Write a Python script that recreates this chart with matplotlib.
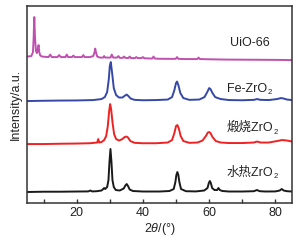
import matplotlib
matplotlib.use("Agg")
import matplotlib.pyplot as plt
from matplotlib.ticker import MultipleLocator

plt.rcParams['font.family'] = ['Liberation Sans', 'Noto Sans CJK SC', 'DejaVu Sans']
plt.rcParams['mathtext.fontset'] = 'custom'
plt.rcParams['mathtext.rm'] = 'Liberation Sans'
plt.rcParams['mathtext.it'] = 'Liberation Sans:italic'

# hydrothermal ZrO2 (black)
x_hydro = [5, 10, 15, 20, 23.5, 24.1, 24.7, 26, 27.5, 28.0,
           28.3, 28.6, 29.2, 29.6, 29.9, 30.2, 30.5, 30.8, 31.2, 31.8,
           33, 34.2, 34.7, 35.1, 35.5, 36.0, 37, 40, 45, 48,
           49.3, 49.8, 50.1, 50.4, 50.7, 51.0, 51.5, 53, 56, 58.5,
           59.5, 59.9, 60.2, 60.5, 60.9, 61.6, 62.4, 62.8, 63.2, 64,
           66, 70, 73.5, 74.4, 75.3, 77, 80, 81.3, 81.9, 82.5,
           83.5, 85]
y_hydro = [0, 0.3, 0.3, 0.5, 0.6, 1.5, 0.6, 0.8, 1.5, 3,
           4, 3, 5, 12, 30, 43, 30, 12, 5, 2,
           1.5, 3.5, 6.5, 8, 6, 2.5, 1, 0.5, 0.5, 1,
           3, 10, 17, 20, 17, 10, 3, 0.8, 0.6, 1.5,
           4, 9, 11, 9, 4, 2, 2, 4, 2, 1,
           0.5, 0.5, 0.8, 2, 0.8, 0.5, 0.6, 1.5, 3, 1.5,
           0.8, 0.5]

# calcined ZrO2 (red)
x_calc = [5, 10, 15, 20, 24, 26.2, 26.5, 26.8, 27.5, 28.3,
          28.9, 29.4, 29.8, 30.1, 30.4, 30.8, 31.3, 31.9, 32.8, 33.8,
          34.5, 35.0, 35.5, 36.2, 37.5, 40, 44, 47.5, 48.8, 49.5,
          50.0, 50.4, 50.8, 51.4, 52.2, 54, 56.5, 58, 59, 59.6,
          60.0, 60.4, 61.0, 62, 63.5, 66, 70, 73.5, 74.5, 75.5,
          78, 80.5, 82, 83.5, 85]
y_calc = [0, 0, 0.3, 0.5, 0.8, 1.5, 5, 1.5, 2, 4,
          8, 18, 33, 40, 35, 22, 10, 5, 3.5, 5,
          7, 7.5, 6.5, 3, 1.2, 0.8, 0.8, 1.5, 4, 11,
          18, 19, 16, 8, 3, 1.2, 1.5, 3.5, 8, 11.5,
          12, 11, 7, 3, 1.5, 1, 1, 1.5, 2.5, 1.5,
          1.5, 3, 4, 3.5, 2.5]

# Fe-ZrO2 (blue)
x_fe = [5, 10, 15, 20, 25, 27.5, 28.5, 29.2, 29.7, 30.0,
        30.3, 30.7, 31.2, 31.9, 32.8, 33.8, 34.6, 35.1, 35.6, 36.3,
        37.5, 40, 44, 47.5, 48.8, 49.5, 50.0, 50.3, 50.7, 51.3,
        52.2, 54, 57, 58.6, 59.5, 60.0, 60.4, 61.0, 61.8, 62.6,
        63.5, 66, 70, 73.5, 74.5, 75.5, 78, 80.5, 81.7, 82.5,
        83.5, 85]
y_fe = [0, 0.3, 0.5, 0.6, 1, 2, 4, 9, 22, 35,
        39, 28, 13, 6, 3.5, 3.5, 5.5, 6.5, 5, 2.5,
        1.2, 0.8, 1, 1.5, 4, 11, 18, 19.5, 16, 8,
        3, 1.2, 1.5, 4, 9.5, 13, 12, 8, 4, 3,
        2, 1, 0.8, 1.2, 2, 1.2, 1, 2, 3, 2.5,
        1.5, 1]

# UiO-66 (magenta)
x_uio = [5, 6.3, 6.8, 7.0, 7.2, 7.4, 7.7, 8.0, 8.3, 8.5,
         8.7, 9.0, 9.6, 11.5, 12.0, 12.5, 14.2, 14.7, 15.2, 16.6,
         17.0, 17.4, 18.6, 19.0, 19.4, 21.6, 22.0, 22.4, 24.0, 25.0,
         25.4, 25.6, 25.8, 26.2, 27.0, 28.0, 28.3, 28.6, 30.2, 30.6,
         31.0, 32.2, 32.6, 33.0, 33.9, 34.3, 34.7, 35.6, 36.0, 36.4,
         37.6, 38.0, 38.4, 39.6, 40.0, 40.4, 42.8, 43.2, 43.6, 45,
         49.9, 50.3, 50.7, 53, 56.4, 56.8, 57.2, 60, 65, 70,
         75, 80, 85]
y_uio = [3.5, 4, 8, 22, 43, 24, 9, 7, 12, 15,
         8, 4.5, 3.5, 3, 5.5, 3, 3, 5, 3, 3,
         5.5, 3, 3, 4.5, 3, 3, 5, 3, 3, 4,
         8, 11.5, 8, 3.5, 2.5, 2.5, 4, 2.5, 2.5, 5.5,
         2.5, 2.5, 4, 2.2, 2.2, 3.5, 2.2, 2, 3.5, 2,
         2, 3, 2, 2, 3, 1.8, 1.5, 3.5, 1.5, 1.3,
         1.2, 3, 1.2, 1, 1, 2.5, 1, 0.8, 0.5, 0.4,
         0.3, 0.2, 0]

labels = ['水热ZrO', '煅烧ZrO', 'Fe-ZrO', 'UiO-66']
subs = ['2', '2', '2', '']
colors = ['#1a1a1a', '#ee2222', '#3548a8', '#c050b0']
offsets = [11, 59, 102, 143]
label_pos = [(65.3, 30), (65.3, 75), (65.3, 114), (66.2, 160)]

fig = plt.figure(figsize=(3.01, 2.44), dpi=100)
ax = fig.add_axes([0.0897, 0.168, 0.8803, 0.807])

series = [(x_hydro, y_hydro), (x_calc, y_calc), (x_fe, y_fe), (x_uio, y_uio)]
for (xs, ys), c, off in zip(series, colors, offsets):
    ax.plot(xs, [v + off for v in ys], color=c, lw=1.4)

for lab, sub, (lx, ly) in zip(labels, subs, label_pos):
    t = ax.text(lx, ly, lab, fontsize=9, ha='left', va='center', color='#222222')
    if sub:
        ax.annotate(sub, xy=(1, 0), xycoords=t, xytext=(0.3, -1), textcoords='offset points',
                    fontsize=5.5, ha='left', va='bottom', color='#222222')

ax.set_xlim(5, 85)
ax.set_ylim(0, 197)
ax.set_yticks([])
ax.xaxis.set_major_locator(MultipleLocator(20))
ax.xaxis.set_minor_locator(MultipleLocator(10))
ax.tick_params(axis='x', which='both', direction='in', length=3, width=1,
               labelsize=9, pad=3, colors='#333333', labelcolor='#222222')
for s in ax.spines.values():
    s.set_linewidth(1.1)
    s.set_color('#333333')

ax.set_ylabel('Intensity/a.u.', fontsize=9, labelpad=4, color='#222222')
ax.set_xlabel(r'2$\it{\theta}$/(°)', fontsize=9, labelpad=1, color='#222222')

fig.savefig('out.png', dpi=100)
